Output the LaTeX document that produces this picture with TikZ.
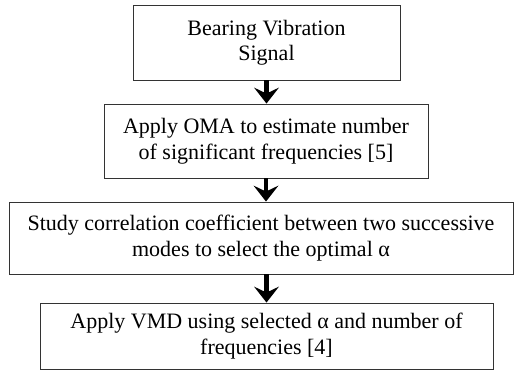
\documentclass[tikz,border=0pt]{standalone}
\usepackage{fontspec}
\setmainfont{Liberation Serif}
\usetikzlibrary{arrows.meta}
\tikzset{
  step_box/.style = {draw=black!80, line width=0.9pt, rectangle, align=center,
    inner sep=0pt, font=\fontsize{22}{25.5}\selectfont},% etape du traitement
  flow_arrow/.style = {line width=4.5pt,
    -{Stealth[length=16pt, width=25pt, inset=6pt, line width=0pt]}}% fleche entre etapes
}

\begin{document}
\begin{tikzpicture}[x=1pt, y=-1pt]
    \useasboundingbox (0,0) rectangle (515,370);

    \node [step_box, minimum width=267pt, minimum height=75pt] (signal) at (266.5,42.5)
      {Bearing Vibration\\Signal};
    \node [step_box, minimum width=324pt, minimum height=74pt] (oma) at (266,141)
      {Apply OMA to estimate number\\of significant frequencies [5]};
    \node [step_box, minimum width=504pt, minimum height=72pt] (alpha) at (261,238)
      {Study correlation coefficient between two successive\\modes to select the optimal α};
    \node [step_box, minimum width=453pt, minimum height=66pt] (vmd) at (266.5,336)
      {Apply VMD using selected α and number of\\frequencies [4]};

    \draw [flow_arrow] (signal.south) -- (signal.south |- oma.north);
    \draw [flow_arrow] (oma.south) -- (oma.south |- alpha.north);
    \draw [flow_arrow] (vmd.north |- alpha.south) -- (vmd.north);
\end{tikzpicture}
\end{document}
